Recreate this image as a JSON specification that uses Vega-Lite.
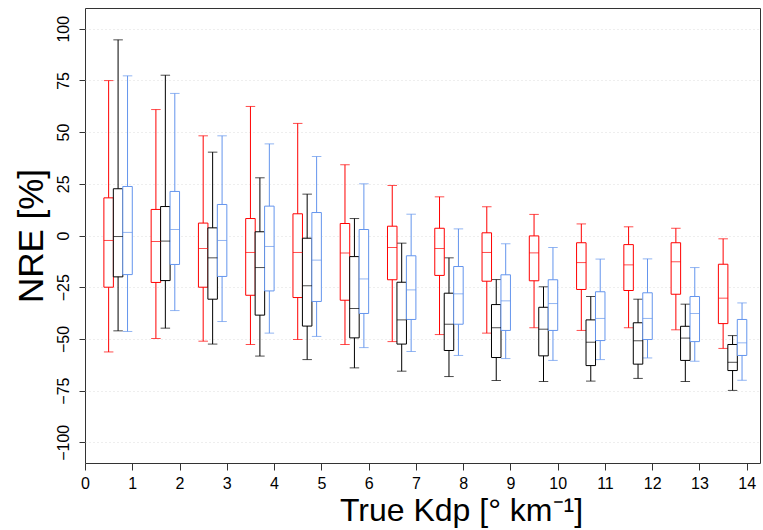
{
  "$schema": "https://vega.github.io/schema/vega-lite/v6.json",
  "width": 675,
  "height": 455,
  "autosize": "none",
  "padding": {"left": 85, "top": 8, "right": 3, "bottom": 67},
  "background": "white",
  "config": {
    "view": {"stroke": "#333", "strokeWidth": 1},
    "axis": {
      "domain": false,
      "tickColor": "#333",
      "labelColor": "#000",
      "titleColor": "#000",
      "labelFont": "Liberation Sans",
      "titleFont": "Liberation Sans",
      "titleFontWeight": "normal"
    }
  },
  "data": {
    "values": [
      {"k": 0, "s": "red", "x": 0.5, "lo": -56.3, "q1": -25.0, "med": -2.4, "q3": 18.2, "hi": 74.9},
      {"k": 0, "s": "black", "x": 0.7, "lo": -46.1, "q1": -20.0, "med": -0.5, "q3": 22.6, "hi": 94.6},
      {"k": 0, "s": "blue", "x": 0.9, "lo": -46.4, "q1": -18.9, "med": 1.5, "q3": 23.7, "hi": 77.2},
      {"k": 1, "s": "red", "x": 1.5, "lo": -49.8, "q1": -22.7, "med": -2.9, "q3": 12.6, "hi": 60.9},
      {"k": 1, "s": "black", "x": 1.7, "lo": -44.8, "q1": -21.8, "med": -2.7, "q3": 14.0, "hi": 77.5},
      {"k": 1, "s": "blue", "x": 1.9, "lo": -36.3, "q1": -14.0, "med": 2.9, "q3": 21.3, "hi": 68.7},
      {"k": 2, "s": "red", "x": 2.5, "lo": -51.1, "q1": -25.0, "med": -6.3, "q3": 6.0, "hi": 48.2},
      {"k": 2, "s": "black", "x": 2.7, "lo": -52.5, "q1": -30.8, "med": -10.8, "q3": 3.7, "hi": 40.3},
      {"k": 2, "s": "blue", "x": 2.9, "lo": -41.6, "q1": -19.8, "med": -2.4, "q3": 15.0, "hi": 48.2},
      {"k": 3, "s": "red", "x": 3.5, "lo": -52.7, "q1": -28.9, "med": -8.2, "q3": 8.2, "hi": 62.4},
      {"k": 3, "s": "black", "x": 3.7, "lo": -58.3, "q1": -38.5, "med": -15.5, "q3": 1.8, "hi": 27.9},
      {"k": 3, "s": "blue", "x": 3.9, "lo": -47.2, "q1": -26.8, "med": -5.3, "q3": 14.2, "hi": 44.3},
      {"k": 4, "s": "red", "x": 4.5, "lo": -50.3, "q1": -30.0, "med": -8.2, "q3": 10.5, "hi": 54.2},
      {"k": 4, "s": "black", "x": 4.7, "lo": -60.0, "q1": -43.8, "med": -24.3, "q3": -1.3, "hi": 20.0},
      {"k": 4, "s": "blue", "x": 4.9, "lo": -48.8, "q1": -31.9, "med": -11.9, "q3": 11.1, "hi": 38.2},
      {"k": 5, "s": "red", "x": 5.5, "lo": -52.7, "q1": -31.3, "med": -8.5, "q3": 5.8, "hi": 34.2},
      {"k": 5, "s": "black", "x": 5.7, "lo": -64.0, "q1": -49.5, "med": -35.3, "q3": -10.2, "hi": 8.2},
      {"k": 5, "s": "blue", "x": 5.9, "lo": -54.2, "q1": -37.7, "med": -21.0, "q3": 2.9, "hi": 25.0},
      {"k": 6, "s": "red", "x": 6.5, "lo": -51.3, "q1": -21.4, "med": -5.8, "q3": 4.5, "hi": 24.2},
      {"k": 6, "s": "black", "x": 6.7, "lo": -65.6, "q1": -52.5, "med": -40.8, "q3": -22.6, "hi": -3.7},
      {"k": 6, "s": "blue", "x": 6.9, "lo": -56.1, "q1": -40.6, "med": -26.3, "q3": -9.8, "hi": 10.3},
      {"k": 7, "s": "red", "x": 7.5, "lo": -47.9, "q1": -19.3, "med": -6.3, "q3": 3.5, "hi": 18.7},
      {"k": 7, "s": "black", "x": 7.7, "lo": -68.2, "q1": -55.6, "med": -42.9, "q3": -27.9, "hi": -10.8},
      {"k": 7, "s": "blue", "x": 7.9, "lo": -58.0, "q1": -42.9, "med": -28.2, "q3": -15.0, "hi": 3.2},
      {"k": 8, "s": "red", "x": 8.5, "lo": -47.2, "q1": -22.1, "med": -8.2, "q3": 1.3, "hi": 13.9},
      {"k": 8, "s": "black", "x": 8.7, "lo": -70.1, "q1": -59.0, "med": -44.6, "q3": -33.4, "hi": -21.3},
      {"k": 8, "s": "blue", "x": 8.9, "lo": -59.5, "q1": -45.9, "med": -31.6, "q3": -19.0, "hi": -4.0},
      {"k": 9, "s": "red", "x": 9.5, "lo": -44.6, "q1": -21.9, "med": -8.4, "q3": -0.2, "hi": 10.2},
      {"k": 9, "s": "black", "x": 9.7, "lo": -70.6, "q1": -58.2, "med": -45.3, "q3": -34.7, "hi": -24.8},
      {"k": 9, "s": "blue", "x": 9.9, "lo": -60.4, "q1": -45.9, "med": -32.9, "q3": -21.4, "hi": -5.8},
      {"k": 10, "s": "red", "x": 10.5, "lo": -45.9, "q1": -26.1, "med": -13.1, "q3": -3.5, "hi": 5.6},
      {"k": 10, "s": "black", "x": 10.7, "lo": -70.4, "q1": -62.9, "med": -51.6, "q3": -40.8, "hi": -29.5},
      {"k": 10, "s": "blue", "x": 10.9, "lo": -60.0, "q1": -50.8, "med": -40.1, "q3": -27.2, "hi": -11.4},
      {"k": 11, "s": "red", "x": 11.5, "lo": -44.6, "q1": -26.6, "med": -14.2, "q3": -4.4, "hi": 4.2},
      {"k": 11, "s": "black", "x": 11.7, "lo": -69.1, "q1": -62.2, "med": -50.9, "q3": -42.2, "hi": -30.8},
      {"k": 11, "s": "blue", "x": 11.9, "lo": -59.2, "q1": -50.3, "med": -40.1, "q3": -27.7, "hi": -11.3},
      {"k": 12, "s": "red", "x": 12.5, "lo": -45.6, "q1": -28.4, "med": -12.7, "q3": -3.5, "hi": 3.5},
      {"k": 12, "s": "black", "x": 12.7, "lo": -70.6, "q1": -60.4, "med": -49.6, "q3": -43.9, "hi": -33.2},
      {"k": 12, "s": "blue", "x": 12.9, "lo": -60.8, "q1": -51.3, "med": -37.7, "q3": -29.5, "hi": -15.5},
      {"k": 13, "s": "red", "x": 13.5, "lo": -54.6, "q1": -42.6, "med": -30.3, "q3": -13.9, "hi": -1.6},
      {"k": 13, "s": "black", "x": 13.7, "lo": -74.9, "q1": -65.3, "med": -61.3, "q3": -52.7, "hi": -48.4},
      {"k": 13, "s": "blue", "x": 13.9, "lo": -70.0, "q1": -58.0, "med": -51.9, "q3": -40.6, "hi": -32.6}
    ]
  },
  "encoding": {
    "x": {
      "field": "x",
      "type": "quantitative",
      "scale": {"domain": [0, 14.28], "nice": false, "zero": false, "padding": 0},
      "axis": {
        "values": [0, 1, 2, 3, 4, 5, 6, 7, 8, 9, 10, 11, 12, 13, 14],
        "grid": false,
        "tickSize": 7,
        "labelFontSize": 16,
        "labelPadding": 5,
        "labelFlush": false,
        "title": "True Kdp [° km⁻¹]",
        "titleFontSize": 32,
        "titleX": 376,
        "titleY": 57,
        "titleBaseline": "alphabetic"
      }
    }
  },
  "layer": [
    {
      "mark": {"type": "rule", "strokeWidth": 1},
      "encoding": {
        "y": {
          "field": "lo",
          "type": "quantitative",
          "scale": {"domain": [-110, 110], "nice": false, "zero": false, "padding": 0},
          "axis": {
            "values": [-100, -75, -50, -25, 0, 25, 50, 75, 100],
            "grid": true,
            "gridColor": "#dcdcdc",
            "gridDash": [1, 3],
            "gridWidth": 1,
            "tickSize": 6,
            "labelFontSize": 16,
            "labelAngle": 270,
            "labelAlign": "center",
            "labelBaseline": "alphabetic",
            "labelPadding": 11,
            "title": "NRE [%]",
            "titleFontSize": 35,
            "titleX": -43,
            "titleBaseline": "alphabetic",
            "titleAngle": 270
          }
        },
        "y2": {"field": "hi"},
        "color": {"field": "s", "type": "nominal", "scale": {"domain": ["red", "black", "blue"], "range": ["#FF0000", "#000000", "#6495ED"]}, "legend": null}
      }
    },
    {
      "mark": {"type": "tick", "orient": "horizontal", "size": 9.5, "thickness": 1},
      "encoding": {
        "y": {"field": "lo", "type": "quantitative"},
        "color": {"field": "s", "type": "nominal", "scale": {"domain": ["red", "black", "blue"], "range": ["#FF0000", "#000000", "#6495ED"]}, "legend": null}
      }
    },
    {
      "mark": {"type": "tick", "orient": "horizontal", "size": 9.5, "thickness": 1},
      "encoding": {
        "y": {"field": "hi", "type": "quantitative"},
        "color": {"field": "s", "type": "nominal", "scale": {"domain": ["red", "black", "blue"], "range": ["#FF0000", "#000000", "#6495ED"]}, "legend": null}
      }
    },
    {
      "mark": {"type": "bar", "size": 9.5, "fill": "white", "strokeWidth": 1},
      "encoding": {
        "y": {"field": "q1", "type": "quantitative"},
        "y2": {"field": "q3"},
        "stroke": {"field": "s", "type": "nominal", "scale": {"domain": ["red", "black", "blue"], "range": ["#FF0000", "#000000", "#6495ED"]}, "legend": null}
      }
    },
    {
      "mark": {"type": "tick", "orient": "horizontal", "size": 9.5, "thickness": 1},
      "encoding": {
        "y": {"field": "med", "type": "quantitative"},
        "color": {"field": "s", "type": "nominal", "scale": {"domain": ["red", "black", "blue"], "range": ["#FF0000", "#000000", "#6495ED"]}, "legend": null}
      }
    },
    {
      "mark": {"type": "rule", "color": "#555", "strokeWidth": 1},
      "encoding": {"y": {"datum": 0}}
    }
  ]
}
